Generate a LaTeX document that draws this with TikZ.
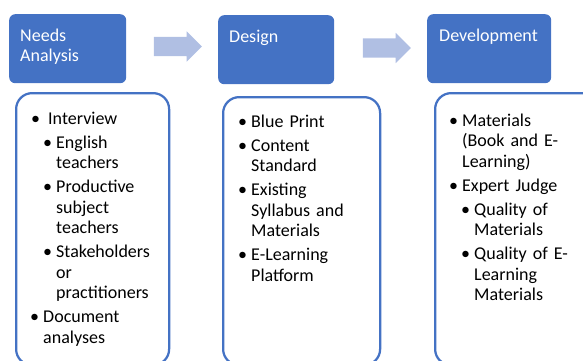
\documentclass[tikz,border=0pt]{standalone}
\usepackage{fontspec}
\setmainfont{Carlito}
\usetikzlibrary{shapes.arrows}
\definecolor{stageblue}{HTML}{4472C4}
\definecolor{flowblue}{RGB}{176,191,227}
\newcommand{\bitem}[3]{\leftskip=#1pt\noindent\llap{\textbullet\hspace{#2pt}}#3\par}

\begin{document}
\begin{tikzpicture}[x=1pt,y=-1pt,
    stage/.style={fill=stageblue, rounded corners=6pt, inner sep=0pt, anchor=north west},
    flow/.style={single arrow, fill=flowblue, inner sep=0pt, text height=19pt, text depth=0pt,
        minimum height=48pt, single arrow head extend=5.5pt, single arrow tip angle=90},
    panel/.style={draw=stageblue, line width=2.25pt, rounded corners=16pt, inner sep=0pt, anchor=north west},
    stagetext/.style={text=white, anchor=base west, text width=115pt, inner sep=0pt,
        font=\fontsize{18}{20.5}\selectfont},
    listtext/.style={anchor=base west, text width=150pt, inner sep=0pt,
        font=\fontsize{18}{20.5}\selectfont}]
\clip (0,0) rectangle (583,360);
\begin{scope}
    \node[stage, minimum width=117pt, minimum height=69pt] (needs) at (9,14) {};
    \node[stage, minimum width=116pt, minimum height=69pt] (design) at (218,15) {};
    \node[stage, minimum width=124pt, minimum height=69pt] (devel) at (427,14) {};
    \node[flow] (needsdesign) at (173,46.5) {};
    \node[flow] (designdevel) at (382,48) {};
    \node[stagetext] (needst) at (20,41) {\raggedright Needs\break Analysis};
    \node[stagetext] (designt) at (229,42) {Design};
    \node[stagetext] (develt) at (439,41) {Development};
\end{scope}
%% the lists under each stage
\node[panel, minimum width=153pt, minimum height=272pt] (needsbox) at (15,92) {};
\node[panel, minimum width=157pt, minimum height=268pt] (designbox) at (222,96) {};
\node[panel, minimum width=170pt, minimum height=272pt] (develbox) at (434,92) {};
\node[listtext] (needsl) at (43,124) {\raggedright\setlength\parskip{3.5pt}%
    \bitem{5}{8}{Interview}
    \bitem{13}{4}{English\break teachers}
    \bitem{13}{4}{Productive\break subject\break teachers}
    \bitem{13}{4}{Stakeholders\break or\break practitioners}
    \bitem{0}{4}{Document\break analyses}};
\node[listtext] (designl) at (251,127) {\raggedright\setlength\parskip{3.5pt}%
    \bitem{0}{4}{Blue Print}
    \bitem{0}{4}{Content\break Standard}
    \bitem{0}{4}{Existing\break Syllabus and\break Materials}
    \bitem{0}{4}{E-Learning\break Platform}};
\node[listtext] (devell) at (462,126) {\raggedright\setlength\parskip{3.5pt}%
    \bitem{0}{4}{Materials\break (Book and E-\break Learning)}
    \bitem{0}{4}{Expert Judge}
    \bitem{12}{4}{Quality of\break Materials}
    \bitem{12}{4}{Quality of E-\break Learning\break Materials}};
\end{tikzpicture}
\end{document}
